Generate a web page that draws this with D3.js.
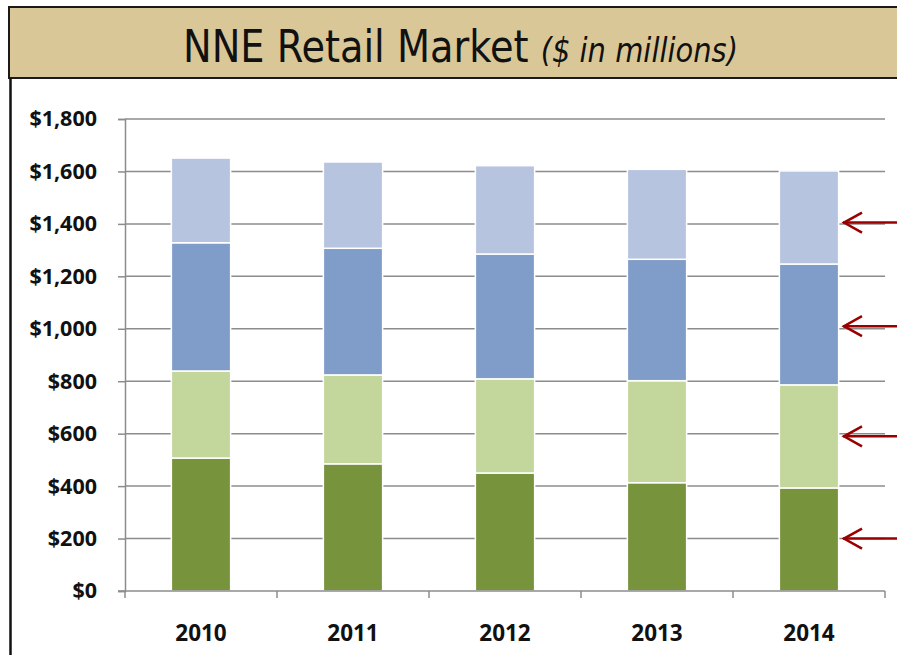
<!DOCTYPE html>
<html>
<head>
<meta charset="utf-8">
<script src="https://cdn.jsdelivr.net/npm/d3@7"></script>
<style>
    body { margin: 0; background: #ffffff; }
    #chart { width: 897px; height: 655px; }
</style>
</head>
<body>
<div id="chart"></div>
<script>

// data ($ millions)
const years = ['2010', '2011', '2012', '2013', '2014'];
const seriesBottom = [507, 485, 450, 413, 393];
const seriesSecond = [332, 339, 359, 389, 393];
const seriesThird = [489, 483, 476, 463, 461];
const seriesTop = [323, 329, 337, 343, 355];
const yTicks = [0, 200, 400, 600, 800, 1000, 1200, 1400, 1600, 1800];
const arrowLevels = [1405, 1010, 590, 200];

const seriesColors = ['#77933c', '#c3d69b', '#7f9dc8', '#b6c4df'];

const renderChart = function(svgWidth, svgHeight, svg) {

    const plot = {left: 125, right: 885, top: 119, bottom: 591};

    // title band
    svg.append('rect')
       .attr('x', 9)
       .attr('y', 7)
       .attr('width', svgWidth + 20)
       .attr('height', 71)
       .attr('fill', '#dac797')
       .attr('stroke', '#1a1a1a')
       .attr('stroke-width', 2);

    svg.append('line')
       .attr('x1', 10.5).attr('x2', 10.5)
       .attr('y1', 78).attr('y2', svgHeight)
       .attr('stroke', '#111')
       .attr('stroke-width', 2.5);

    const title = svg.append('text')
                     .attr('x', 183)
                     .attr('y', 62)
                     .attr('fill', '#111')
                     .attr('textLength', 555)
                     .attr('lengthAdjust', 'spacingAndGlyphs')
                     .style('font-family', '"DejaVu Sans Condensed", "DejaVu Sans", sans-serif')
                     .style('font-weight', 300);
    title.append('tspan')
         .attr('font-size', 45)
         .text('NNE Retail Market ');
    title.append('tspan')
         .attr('font-size', 34)
         .attr('font-style', 'italic')
         .text('($ in millions)');

    const xScale = d3.scaleBand()
                     .domain(years)
                     .range([plot.left, plot.right])
                     .padding(0);

    const yScale = d3.scaleLinear()
                     .domain([0, 1800])
                     .range([plot.bottom, plot.top]);

    // gridlines
    svg.append('g')
       .selectAll('line')
       .data(yTicks.slice(1))
       .enter()
       .append('line')
       .attr('x1', plot.left)
       .attr('x2', plot.right)
       .attr('y1', d => yScale(d))
       .attr('y2', d => yScale(d))
       .attr('stroke', '#8c8c8c')
       .attr('stroke-width', 1.5);

    const yAxis = d3.axisLeft(yScale)
                    .tickValues(yTicks)
                    .tickSize(7)
                    .tickPadding(21)
                    .tickFormat(d => '$' + d3.format(',')(d));

    const yAxisGroup = svg.append('g')
                          .attr('transform', `translate(${plot.left}, 0)`)
                          .call(yAxis);

    yAxisGroup.select('.domain').attr('stroke', '#8c8c8c').attr('stroke-width', 1.5);
    yAxisGroup.selectAll('.tick line').attr('stroke', '#8c8c8c').attr('stroke-width', 1.5);
    yAxisGroup.selectAll('.tick text')
              .attr('fill', '#111')
              .style('font-family', '"Open Sans", sans-serif')
              .style('font-weight', 700)
              .style('font-size', '21.5px');

    // stacked bars
    const rows = years.map(function(y, i) {
        return {year: y, s0: seriesBottom[i], s1: seriesSecond[i], s2: seriesThird[i], s3: seriesTop[i]};
    });
    const stacked = d3.stack().keys(['s0', 's1', 's2', 's3'])(rows);

    const barWidth = xScale.bandwidth() * 0.39;

    svg.append('g')
       .selectAll('g')
       .data(stacked)
       .enter()
       .append('g')
       .attr('fill', (d, i) => seriesColors[i])
       .selectAll('rect')
       .data(d => d)
       .enter()
       .append('rect')
       .attr('x', d => xScale(d.data.year) + xScale.bandwidth() / 2 - barWidth / 2)
       .attr('y', d => yScale(d[1]))
       .attr('width', barWidth)
       .attr('height', d => yScale(d[0]) - yScale(d[1]))
       .attr('stroke', '#ffffff')
       .attr('stroke-width', 1.5);

    // x axis with ticks at category boundaries
    const boundaries = years.map(y => xScale(y)).concat([plot.right]);

    svg.append('line')
       .attr('x1', plot.left - 7)
       .attr('x2', plot.right)
       .attr('y1', plot.bottom)
       .attr('y2', plot.bottom)
       .attr('stroke', '#8c8c8c')
       .attr('stroke-width', 1.5);

    svg.append('g')
       .selectAll('line')
       .data(boundaries)
       .enter()
       .append('line')
       .attr('x1', d => d)
       .attr('x2', d => d)
       .attr('y1', plot.bottom)
       .attr('y2', plot.bottom + 7)
       .attr('stroke', '#8c8c8c')
       .attr('stroke-width', 1.5);

    svg.append('g')
       .selectAll('text')
       .data(years)
       .enter()
       .append('text')
       .attr('x', d => xScale(d) + xScale.bandwidth() / 2)
       .attr('y', 641)
       .attr('text-anchor', 'middle')
       .attr('fill', '#111')
       .style('font-family', '"Open Sans", sans-serif')
       .style('font-weight', 700)
       .style('font-size', '22.5px')
       .text(d => d);

    // red arrows on the right
    const arrows = svg.append('g')
                      .attr('stroke', '#9b0000')
                      .attr('stroke-width', 2.5)
                      .attr('fill', 'none');

    arrowLevels.forEach(function(v) {
        const y = yScale(v);
        arrows.append('line')
              .attr('x1', 843).attr('x2', svgWidth + 5)
              .attr('y1', y).attr('y2', y);
        arrows.append('path')
              .attr('d', `M862,${y - 10} L844,${y} L862,${y + 10}`);
    });
};

const setSvg = function() {
    const containerElement = document.getElementById('chart');
    const svgWidth = 897;
    const svgHeight = 655;

    const svg = d3.select(containerElement)
                  .append('svg')
                  .attr('width', svgWidth)
                  .attr('height', svgHeight);

    return [svgWidth, svgHeight, svg];
};

const svgVars = setSvg();
renderChart(svgVars[0], svgVars[1], svgVars[2]);

</script>
</body>
</html>
